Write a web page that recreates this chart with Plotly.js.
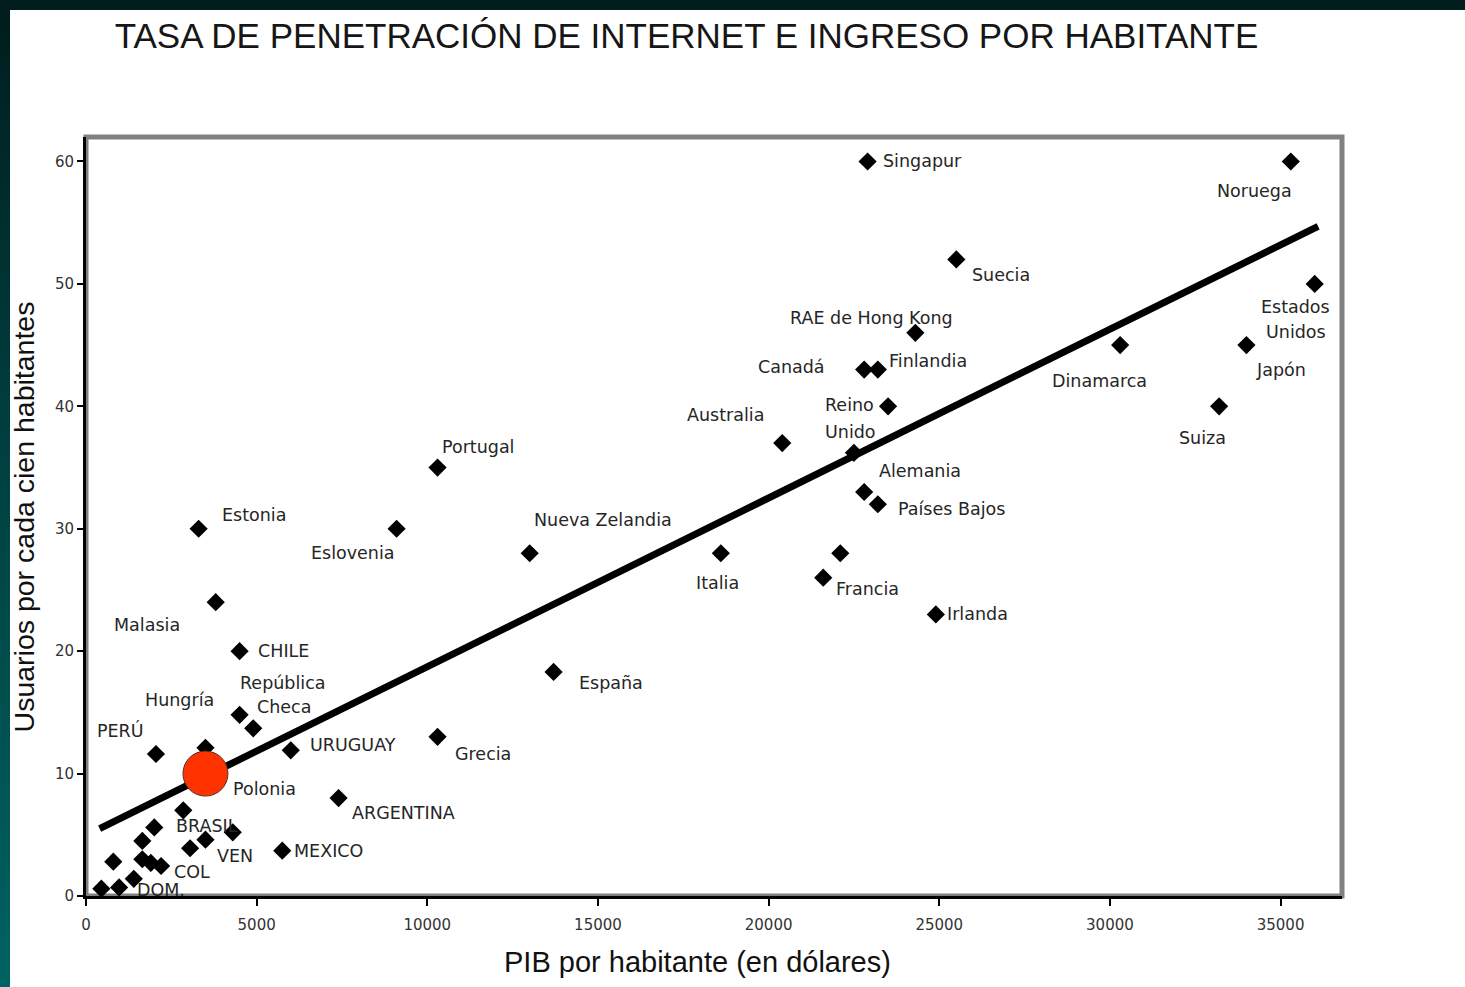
<!DOCTYPE html>
<html>
<head>
<meta charset="utf-8">
<script src="https://cdn.plot.ly/plotly-3.0.1.min.js"></script>
<style>
  html, body { margin:0; padding:0; width:1465px; height:987px; overflow:hidden;
    background: linear-gradient(to bottom, #001c1c 0%, #003c3c 40%, #006262 100%); }
  #wrap { position:absolute; left:10px; top:10px; width:1455px; height:977px; background:#ffffff; }
  #chart { position:absolute; left:0; top:0; width:1465px; height:987px; }
</style>
</head>
<body>
<div id="wrap"></div>
<div id="chart"></div>
<script>
// ---- data ----
const ptX = [22900,35300,25500,36000,24300,22800,23200,30300,34000,23500,
             33200,20400,22500,22800,23200,10300,3300,9100,13000,18600,
             22100,21600,24900,3800,4500,13700,4500,4900,3500,2050,
             6000,10300,7400,2850,4300,3500,2000,1650,3050,5750,
             1650,1900,2200,800,1400,970,450];
const ptY = [60,60,52,50,46,43,43,45,45,40,
             40,37,36.2,33,32,35,30,30,28,28,
             28,26,23,24,20,18.3,14.8,13.7,12.1,11.6,
             11.9,13,8,7,5.2,4.6,5.6,4.5,3.9,3.7,
             3.0,2.7,2.45,2.8,1.4,0.7,0.6];

const polX = [3500];
const polY = [10];

const trendX = [400, 36100];
const trendY = [5.5, 54.7];

const labelText = ["Singapur","Noruega","Suecia","Estados","Unidos","RAE de Hong Kong","Canadá","Finlandia","Dinamarca","Japón",
                   "Reino","Unido","Suiza","Australia","Alemania","Países Bajos","Portugal","Estonia","Eslovenia","Nueva Zelandia",
                   "Italia","Francia","Irlanda","Malasia","CHILE","República","Checa","Hungría","PERÚ","URUGUAY",
                   "Grecia","Polonia","ARGENTINA","BRASIL","VEN","MEXICO","COL","DOM.","España"];
const labelX = [23300,34240,25910,35440,35440,23010,20670,23480,29700,35000,
                21600,21600,32710,18730,23190,23720,10380,3930,7830,13070,
                18500,21930,25180,1790,4980,4460,4950,2730,1000,6510,
                10760,4250,7740,2580,3780,6040,2520,1440,14390];
const labelY = [60,57.6,50.7,48.1,46.1,47.2,43.2,43.7,42.1,43.0,
                40.1,37.9,37.4,39.3,34.7,31.6,36.7,31.1,28.0,30.7,
                25.6,25.1,23.0,22.1,20.0,17.4,15.4,16.0,13.5,12.3,
                11.6,8.75,6.8,5.7,3.3,3.7,2.0,0.5,17.4];
const labelAnchor = ["L","C","L","C","C","C","C","L","C","C",
                     "L","L","C","C","L","L","L","L","C","L",
                     "C","L","L","C","L","L","L","C","C","L",
                     "L","L","L","L","L","L","L","L","L"];

const xTicks = [0,5000,10000,15000,20000,25000,30000,35000];
const yTicks = [0,10,20,30,40,50,60];

const titleText = "TASA DE PENETRACIÓN DE INTERNET E INGRESO POR HABITANTE";
const xTitle = "PIB por habitante (en dólares)";
const yTitle = "Usuarios por cada cien habitantes";

// ---- traces ----
const traces = [
  { x: trendX, y: trendY, mode: 'lines', type: 'scatter',
    line: { color: '#000000', width: 7 }, hoverinfo: 'skip', cliponaxis: false },
  { x: ptX, y: ptY, mode: 'markers', type: 'scatter',
    marker: { symbol: 'diamond', size: 14, color: '#000000' }, cliponaxis: false },
  { x: polX, y: polY, mode: 'markers', type: 'scatter',
    marker: { symbol: 'circle', size: 45, color: '#ff3300', line: { color: '#553322', width: 1 } },
    cliponaxis: false }
];

const annotations = labelText.map((t, i) => ({
  text: t, x: labelX[i], y: labelY[i], xref: 'x', yref: 'y',
  xanchor: labelAnchor[i] === 'L' ? 'left' : 'center', yanchor: 'middle',
  showarrow: false, font: { family: 'DejaVu Sans, Arial, sans-serif', size: 17.5, color: '#262626' }
}));

annotations.push({
  text: xTitle, xref: 'paper', yref: 'paper', x: 0.487, y: -0.087,
  xanchor: 'center', yanchor: 'middle', showarrow: false,
  font: { family: 'Liberation Sans, Arial, sans-serif', size: 29, color: '#111111' }
});
annotations.push({
  text: yTitle, xref: 'paper', yref: 'paper', x: -0.0494, y: 0.5,
  xanchor: 'center', yanchor: 'middle', textangle: -90, showarrow: false,
  font: { family: 'Liberation Sans, Arial, sans-serif', size: 28.5, color: '#111111' }
});

const layout = {
  width: 1465, height: 987,
  margin: { l: 86, r: 123, t: 137, b: 91 },
  paper_bgcolor: 'rgba(0,0,0,0)', plot_bgcolor: '#ffffff',
  showlegend: false,
  font: { family: 'Liberation Sans, Arial, sans-serif' },
  title: { text: titleText, x: 0.4686, xref: 'container', xanchor: 'center',
           y: 0.9635, yref: 'container', yanchor: 'middle',
           font: { family: 'Liberation Sans, Arial, sans-serif', size: 35, color: '#161616' } },
  xaxis: { range: [0, 36800], tickmode: 'array', tickvals: xTicks, ticktext: xTicks.map(String),
           showgrid: false, zeroline: false, showline: true, linecolor: '#000000', linewidth: 3,
           ticks: 'outside', ticklen: 7, tickwidth: 2, tickcolor: '#000000', ticklabelstandoff: 6,
           tickfont: { family: 'DejaVu Sans, Arial, sans-serif', size: 15, color: '#333333' },
           fixedrange: true },
  yaxis: { range: [0, 62], tickmode: 'array', tickvals: yTicks, ticktext: yTicks.map(String),
           showgrid: false, zeroline: false, showline: true, linecolor: '#000000', linewidth: 3,
           ticks: 'outside', ticklen: 6, tickwidth: 2, tickcolor: '#000000',
           tickfont: { family: 'DejaVu Sans, Arial, sans-serif', size: 15, color: '#333333' },
           fixedrange: true },
  shapes: [
    { type: 'rect', xref: 'paper', yref: 'paper', x0: 0, x1: 1, y0: 0, y1: 1,
      line: { color: '#808080', width: 5 }, layer: 'below' }
  ],
  annotations: annotations
};

Plotly.newPlot('chart', traces, layout, { displayModeBar: false, staticPlot: true });
</script>
</body>
</html>
